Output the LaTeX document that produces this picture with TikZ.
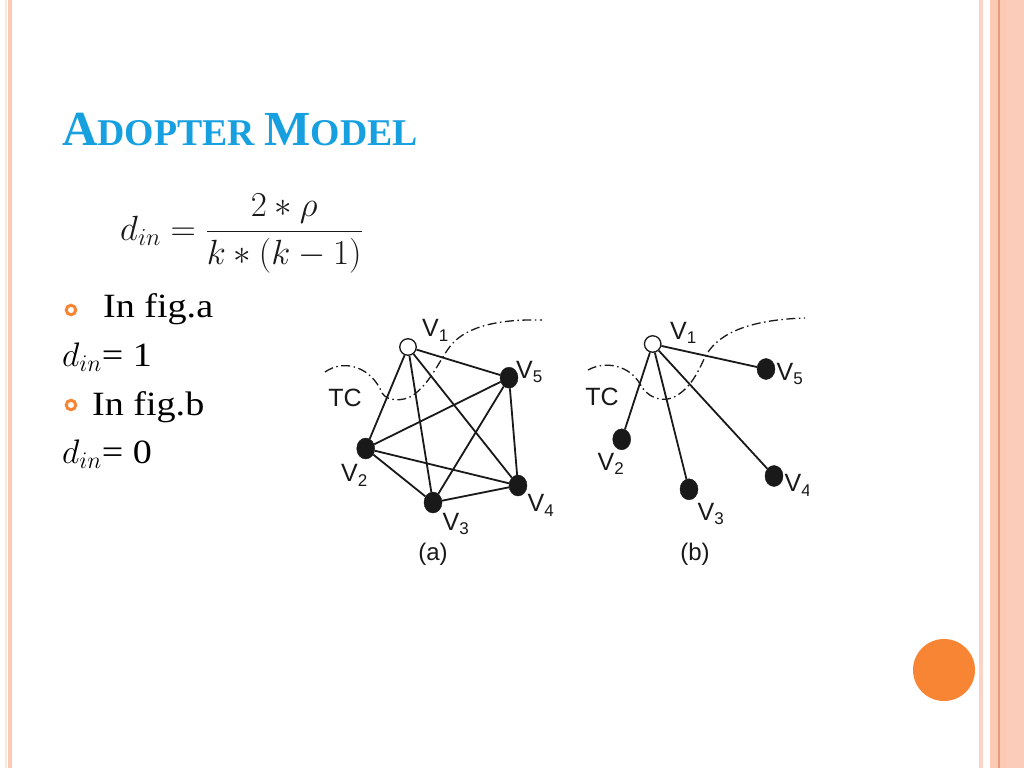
\documentclass[tikz,border=0pt]{standalone}
\usepackage{fix-cm}
\usepackage[no-math]{fontspec}
\setmainfont{Liberation Serif}
\newfontfamily\bodyfont[FakeStretch=1.12]{Liberation Serif}
\newfontfamily\titlefont{Liberation Serif}
\newfontfamily\figfont{Liberation Sans}
\usetikzlibrary{shapes.geometric}
\definecolor{titleblue}{RGB}{23,160,224}
\definecolor{accent}{RGB}{248,133,52}
\definecolor{stripe}{RGB}{252,201,181}
\definecolor{stripeb}{RGB}{251,204,186}
\definecolor{stripelight}{RGB}{252,210,196}
\definecolor{stripedark}{RGB}{230,155,128}
\definecolor{stripepale}{RGB}{249,232,220}
\definecolor{figink}{RGB}{25,25,25}
\tikzset{
  vopen/.style={circle,draw=figink,fill=white,line width=1.3pt,minimum size=16.5pt,inner sep=0pt},
  vfull/.style={ellipse,fill=figink,draw=figink,minimum width=18pt,minimum height=21pt,inner sep=0pt},
  edge/.style={draw=figink,line width=1.8pt},
  tcline/.style={draw=figink,line width=1.3pt,dash pattern=on 9pt off 3.5pt on 1.5pt off 3.5pt},
  vlabel/.style={anchor=base west,text=figink,inner sep=0pt,font=\figfont\fontsize{25}{25}\selectfont},
  tclabel/.style={text=figink,inner sep=0pt,font=\figfont\fontsize{25}{25}\selectfont},
  caplabel/.style={text=figink,inner sep=0pt,font=\figfont\fontsize{24}{24}\selectfont},
  bulletmark/.style={circle,draw=accent,line width=3pt,minimum size=9.5pt,inner sep=0pt},
  bodytext/.style={anchor=base west,inner sep=0pt,font=\bodyfont\fontsize{34}{40}\selectfont}
}
\newcommand{\Vl}[1]{V\raisebox{-4.5pt}{\fontsize{17}{17}\selectfont #1}}
\begin{document}
\begin{tikzpicture}[x=1pt,y=-1pt]
\useasboundingbox (0,0) rectangle (1024,768);
\fill[white] (0,0) rectangle (1024,768);
% left border stripes
\fill[stripepale] (5,0) rectangle (7,768);
\fill[stripe] (8,0) rectangle (12,768);
% right border stripes
\fill[stripelight] (979,0) rectangle (983,768);
\fill[stripe] (990,0) rectangle (1007,768);
\fill[stripeb] (1007,0) rectangle (1024,768);
\fill[stripedark] (998,0) rectangle (999.6,768);
% accent disc
\node[circle,fill=accent,minimum size=62pt,inner sep=0pt] (disc) at (944,670) {};
% title
\node[anchor=base west,inner sep=0pt,text=titleblue] (title) at (62,145)
  {\titlefont\bfseries\fontsize{49}{49}\selectfont A\fontsize{37.8}{38}\selectfont DOPTER \fontsize{49}{49}\selectfont M\fontsize{37.8}{38}\selectfont ODEL};
% formula
\node[anchor=base west,inner sep=0pt,text=black!90] (formula) at (120,240)
  {\fontsize{35}{40}\selectfont $\displaystyle d_{in} = \frac{2*\rho}{k*(k-1)}$};
% bullets and text
\node[bulletmark] (b1) at (71,310) {};
\node[bodytext] (t1) at (103,317) {In fig.a};
\node[bodytext] (t2) at (62,366.5) {$d_{in}$= 1};
\node[bulletmark] (b2) at (71,405) {};
\node[bodytext] (t3) at (92,415) {In fig.b};
\node[bodytext] (t4) at (62,463) {$d_{in}$= 0};

% ---------- figure (a) ----------
\path[tcline] (325,372) .. controls (345,358) and (372,368) .. (382,393)
  .. controls (388,402) and (403,401) .. (412,396)
  .. controls (432,382) and (440,358) .. (452,344)
  .. controls (468,326) and (500,319) .. (542,320);
\node[vopen] (a1) at (408,347) {};
\node[vfull] (a5) at (509,377.7) {};
\node[vfull] (a2) at (365.7,448.5) {};
\node[vfull] (a3) at (433,502.5) {};
\node[vfull] (a4) at (518,485.5) {};
\foreach \p/\q in {a1/a2,a1/a3,a1/a4,a1/a5,a2/a3,a2/a4,a2/a5,a3/a4,a3/a5,a4/a5}
  \path[edge] (\p) -- (\q);
\node[vlabel] (la1) at (422,336.5) {\Vl{1}};
\node[vlabel] (la5) at (516,378.3) {\Vl{5}};
\node[vlabel] (la2) at (341,481.5) {\Vl{2}};
\node[vlabel] (la3) at (442.5,530) {\Vl{3}};
\node[vlabel] (la4) at (527.5,511.5) {\Vl{4}};
\node[tclabel] (tca) at (345,398) {TC};
\node[caplabel] (capa) at (433,554) {(a)};

% ---------- figure (b) ----------
\begin{scope}
\clip (560,300) rectangle (808,580);
\path[tcline] (588,370) .. controls (606,360) and (630,366) .. (640,384)
  .. controls (647,397) and (660,402) .. (672,398)
  .. controls (690,390) and (698,372) .. (705,357)
  .. controls (715,338) and (740,320) .. (805,318);
\node[vopen] (b1n) at (652.7,344) {};
\node[vfull] (b5n) at (766,369) {};
\node[vfull] (b2n) at (621.7,439.3) {};
\node[vfull] (b3n) at (689,489.3) {};
\node[vfull] (b4n) at (774,476) {};
\foreach \q in {b2n,b3n,b4n,b5n}
  \path[edge] (b1n) -- (\q);
\node[vlabel] (lb1) at (670,339) {\Vl{1}};
\node[vlabel] (lb5) at (776.5,380) {\Vl{5}};
\node[vlabel] (lb2) at (597.5,470) {\Vl{2}};
\node[vlabel] (lb3) at (697.5,520) {\Vl{3}};
\node[vlabel] (lb4) at (784.5,491.5) {\Vl{4}};
\node[tclabel] (tcb) at (602,397) {TC};
\node[caplabel] (capb) at (695,554) {(b)};
\end{scope}
\end{tikzpicture}
\end{document}
